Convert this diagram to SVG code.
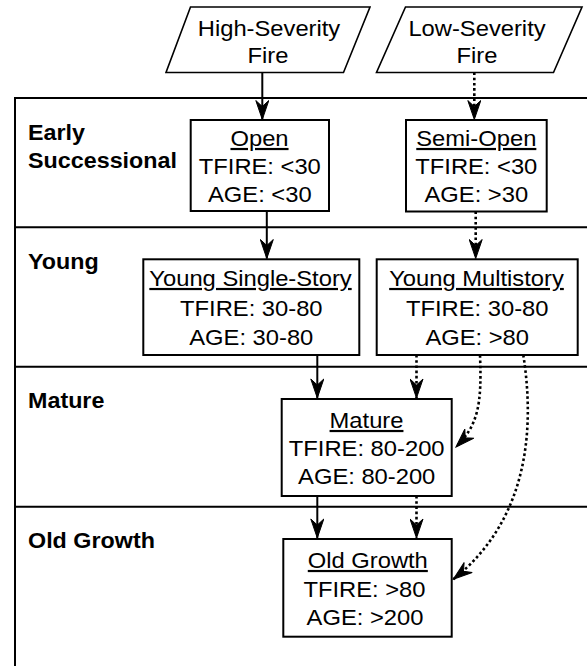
<svg xmlns="http://www.w3.org/2000/svg" width="587" height="666" viewBox="0 0 587 666">
<style>
.t{font-family:"Liberation Sans",Arial,sans-serif;font-size:22px;fill:#000;text-anchor:middle}
.u{text-decoration:underline}
.b{font-family:"Liberation Sans",Arial,sans-serif;font-size:22px;font-weight:bold;fill:#000}
.box{fill:#fff;stroke:#000;stroke-width:2}
.para{fill:#fff;stroke:#000;stroke-width:1.6}
.lane{fill:none;stroke:#000;stroke-width:2}
.solid{fill:none;stroke:#000;stroke-width:2;marker-end:url(#ah)}
.dot{fill:none;stroke:#000;stroke-width:2.6;stroke-dasharray:2.6 2.6;marker-end:url(#ah)}
</style>
<defs>
<marker id="ah" viewBox="-20 -7 21 14" refX="0" refY="0" markerWidth="21" markerHeight="14" markerUnits="userSpaceOnUse" orient="auto">
<path d="M0,0 L-19,-6.5 L-13,0 L-19,6.5 Z" fill="#000" stroke="#000" stroke-width="1" stroke-linejoin="miter"/>
</marker>
</defs>
<rect width="587" height="666" fill="#fff"/>
<g id="lanes">
<path class="lane" d="M15,666 V98 H587 M15,227.3 H587 M15,366.7 H587 M15,506.7 H587"/>
<text class="b" transform="translate(28,140) scale(1.06,1)">Early</text>
<text class="b" transform="translate(28,168) scale(1.06,1)">Successional</text>
<text class="b" transform="translate(28,269) scale(1.06,1)">Young</text>
<text class="b" transform="translate(28,408) scale(1.06,1)">Mature</text>
<text class="b" transform="translate(28,548) scale(1.06,1)">Old Growth</text>
</g>
<g id="connectors">
<path class="solid" d="M262.3,72.5 V119.5"/>
<path class="dot" d="M474.3,72.5 V119.5"/>
<path class="solid" d="M266.8,211 V258.5"/>
<path class="dot" d="M475.7,211.5 V258.5"/>
<path class="solid" d="M317.3,355 V398"/>
<path class="dot" d="M416.5,355 V398"/>
<path class="dot" d="M480,355 C482,405 478,425 456,447"/>
<path class="dot" d="M523.3,355 C535,430 528,520 453.3,579.3"/>
<path class="solid" d="M317.3,496 V538"/>
<path class="dot" d="M416.5,496 V538"/>
</g>
<g id="high-severity">
<polygon class="para" points="190.5,7 370,7 343.5,72.5 166,72.5"/>
<text class="t" transform="translate(269,36) scale(1.08,1)">High-Severity</text>
<text class="t" transform="translate(268,63) scale(1.08,1)">Fire</text>
</g>
<g id="low-severity">
<polygon class="para" points="405.5,7 582,7 553.5,72.5 376.5,72.5"/>
<text class="t" transform="translate(477,36) scale(1.08,1)">Low-Severity</text>
<text class="t" transform="translate(477,63) scale(1.08,1)">Fire</text>
</g>
<g id="open">
<rect class="box" x="190.7" y="120" width="138.3" height="91"/>
<text class="t u" transform="translate(259.5,146) scale(1.08,1)">Open</text>
<text class="t" transform="translate(259.8,174) scale(1.08,1)">TFIRE: &lt;30</text>
<text class="t" transform="translate(259.8,202) scale(1.08,1)">AGE: &lt;30</text>
</g>
<g id="semi-open">
<rect class="box" x="406" y="120" width="140.7" height="91.5"/>
<text class="t u" transform="translate(476.3,146) scale(1.08,1)">Semi-Open</text>
<text class="t" transform="translate(476.3,174) scale(1.08,1)">TFIRE: &lt;30</text>
<text class="t" transform="translate(476.3,202) scale(1.08,1)">AGE: &gt;30</text>
</g>
<g id="young-single-story">
<rect class="box" x="143.3" y="259.3" width="216" height="95.7"/>
<text class="t u" transform="translate(250.5,286) scale(1.08,1)">Young Single-Story</text>
<text class="t" transform="translate(251.3,316) scale(1.08,1)">TFIRE: 30-80</text>
<text class="t" transform="translate(251.3,345) scale(1.08,1)">AGE: 30-80</text>
</g>
<g id="young-multistory">
<rect class="box" x="376.7" y="259.3" width="201" height="95.7"/>
<text class="t u" transform="translate(476.5,286) scale(1.08,1)">Young Multistory</text>
<text class="t" transform="translate(477.2,316) scale(1.08,1)">TFIRE: 30-80</text>
<text class="t" transform="translate(477.2,345) scale(1.08,1)">AGE: &gt;80</text>
</g>
<g id="mature">
<rect class="box" x="281.7" y="399" width="170" height="97"/>
<text class="t u" transform="translate(366.5,428) scale(1.08,1)">Mature</text>
<text class="t" transform="translate(366.7,456) scale(1.08,1)">TFIRE: 80-200</text>
<text class="t" transform="translate(366.7,484) scale(1.08,1)">AGE: 80-200</text>
</g>
<g id="old-growth">
<rect class="box" x="283.3" y="539" width="168.4" height="97.7"/>
<text class="t u" transform="translate(367.8,568) scale(1.08,1)">Old Growth</text>
<text class="t" transform="translate(364.5,597) scale(1.08,1)">TFIRE: &gt;80</text>
<text class="t" transform="translate(365,625) scale(1.08,1)">AGE: &gt;200</text>
</g>
</svg>
